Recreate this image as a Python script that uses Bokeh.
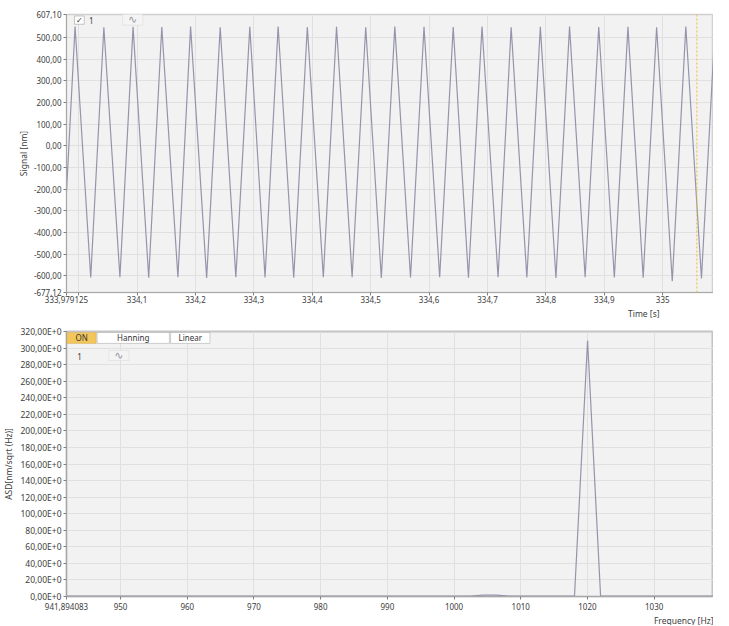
from bokeh.plotting import figure
from bokeh.layouts import column
from bokeh.models import (Range1d, FixedTicker, CustomJSTickFormatter, Span,
                          Label, BoxAnnotation, Title)
from bokeh.embed import file_html
from bokeh.resources import INLINE

FONT = "Noto Sans"
TXT = "#404040"

# ---------------- top panel data (time signal) ----------------
time_start = 333.979125
time_view_end = 335.087
signal_min = -677.12
signal_max = 607.10
signal_first_t = 333.979125
signal_first_v = -213.0
signal_last_t = 335.1003
signal_last_v = 60.0
peak_times = [333.9938, 334.0431, 334.0931, 334.1423, 334.1916, 334.2423, 334.2930,
              334.3415, 334.3915, 334.4415, 334.4915, 334.5413, 334.5913, 334.6413,
              334.6906, 334.7405, 334.7905, 334.8405, 334.8905, 334.9405, 334.9896,
              335.0396, 335.0896]
peak_values = [552, 548, 550, 549, 551, 548, 550, 552, 549, 550, 548, 551,
               550, 549, 552, 548, 550, 551, 549, 550, 548, 552, 550]
trough_times = [334.0206, 334.0706, 334.1199, 334.1699, 334.2191, 334.2691, 334.3191,
                334.3682, 334.4189, 334.4682, 334.5182, 334.5682, 334.6181, 334.6674,
                334.7181, 334.7674, 334.8172, 334.8672, 334.9172, 334.9666, 335.0164,
                335.0664]
trough_values = [-608, -606, -609, -607, -610, -606, -608, -609, -607, -606, -610,
                 -608, -607, -609, -606, -608, -610, -607, -608, -609, -625, -612]
cursor_time = 335.0585
time_ticks = [333.979125, 334.0, 334.1, 334.2, 334.3, 334.4, 334.5, 334.6,
              334.7, 334.8, 334.9, 335.0]
signal_ticks = [-677.12, -600, -500, -400, -300, -200, -100, 0, 100, 200, 300,
                400, 500, 607.10]

# ---------------- bottom panel data (spectrum) ----------------
freq_start = 941.894083
freq_view_end = 1038.9
freq_hz = [941.894083, 1000.48, 1002.43, 1004.39, 1006.34, 1008.29, 1016.11,
           1018.06, 1020.02, 1021.97, 1023.92, 1039.55]
asd_values = [0.4, 0.4, 0.5, 1.6, 1.6, 0.5, 0.4, 0.6, 309.0, 0.6, 0.4, 0.4]
freq_ticks = [941.894083, 950, 960, 970, 980, 990, 1000, 1010, 1020, 1030, 1040]
asd_ticks = [0, 20, 40, 60, 80, 100, 120, 140, 160, 180, 200, 220, 240, 260,
             280, 300, 320]

# build the signal polyline from the read extrema
sig_t = [signal_first_t]
sig_v = [signal_first_v]
for i in range(len(peak_times)):
    sig_t.append(peak_times[i]); sig_v.append(peak_values[i])
    if i < len(trough_times):
        sig_t.append(trough_times[i]); sig_v.append(trough_values[i])
sig_t.append(signal_last_t); sig_v.append(signal_last_v)


def style(p, label_size="8px"):
    for ax in (p.xaxis[0], p.yaxis[0]):
        ax.major_label_text_font = FONT
        ax.major_label_text_font_size = label_size
        ax.major_label_text_color = TXT
        ax.axis_line_color = "#a8a8a8"
        ax.major_tick_line_color = "#808080"
        ax.major_tick_out = 3
        ax.major_tick_in = 0
        ax.minor_tick_line_color = None
        ax.major_label_standoff = 2
        ax.axis_label_text_font = FONT
        ax.axis_label_text_font_size = "8.5px"
        ax.axis_label_text_font_style = "normal"
        ax.axis_label_text_color = TXT
    p.grid.grid_line_color = "#e0e0e0"
    p.grid.grid_line_width = 1


def below_title(text, offset):
    return Title(text=text, align="right", offset=offset, standoff=0,
                 text_font=FONT, text_font_size="8.5px",
                 text_font_style="normal", text_color=TXT)


# ================= top figure =================
p1 = figure(width=713, height=318,
            x_range=Range1d(time_start, time_view_end),
            y_range=Range1d(signal_min, signal_max),
            output_backend="svg", toolbar_location=None,
            min_border_left=50, min_border_right=0,
            min_border_top=14, min_border_bottom=10,
            background_fill_color="#f2f2f2", border_fill_color="white",
            outline_line_color="#d0d0d0", outline_line_width=1.5)
p1.line(sig_t, sig_v, line_color="#9494ac", line_width=1.2)
p1.add_layout(Span(location=cursor_time, dimension="height",
                   line_color="#f2b92e", line_dash="2 2", line_width=1))
p1.xaxis.ticker = FixedTicker(ticks=time_ticks)
p1.yaxis.ticker = FixedTicker(ticks=signal_ticks)
p1.xaxis.formatter = CustomJSTickFormatter(args=dict(first=time_start), code="""
    if (Math.abs(tick - first) < 1e-7) return "333,979125";
    if (Math.abs(tick - 334) < 1e-7) return "";
    if (Math.abs(tick - Math.round(tick)) < 1e-7) return tick.toFixed(0);
    return tick.toFixed(1).replace(".", ",");
""")
p1.yaxis.formatter = CustomJSTickFormatter(code="""
    return tick.toFixed(2).replace(".", ",");
""")
p1.yaxis.axis_label = "Signal [nm]"
style(p1)
p1.yaxis.axis_label_standoff = 2
p1.xaxis.major_label_standoff = 0
p1.add_layout(below_title("Time [s]", 54), "below")

# legend-like decorations (top)
p1.add_layout(BoxAnnotation(left=333.9928, right=334.0095, top=600, bottom=562,
                            fill_color="white", fill_alpha=1,
                            line_color="#555555", line_width=1))
p1.add_layout(Label(x=334.00115, y=581, text="✓", text_font="DejaVu Sans",
                    text_font_size="8px", text_color="#333333",
                    text_align="center", text_baseline="middle"))
p1.add_layout(Label(x=334.0175, y=581, text="1", text_font=FONT,
                    text_font_size="8px", text_color=TXT,
                    text_align="left", text_baseline="middle"))
p1.add_layout(BoxAnnotation(left=334.0752, right=334.1098, top=611, bottom=558,
                            fill_color="#f4f4f4", fill_alpha=1,
                            line_color="#c8c8c8", line_width=1))
p1.add_layout(Label(x=334.0925, y=583, text="∿", text_font="DejaVu Sans",
                    text_font_size="11px", text_color="#9a9aa8",
                    text_align="center", text_baseline="middle"))

# ================= bottom figure =================
p2 = figure(width=713, height=307,
            x_range=Range1d(freq_start, freq_view_end),
            y_range=Range1d(0, 320),
            output_backend="svg", toolbar_location=None,
            min_border_left=59, min_border_right=0,
            min_border_top=13, min_border_bottom=10,
            background_fill_color="#f2f2f2", border_fill_color="white",
            outline_line_color="#c4c4c4", outline_line_width=2)
p2.line(freq_hz, asd_values, line_color="#9494ac", line_width=1.2)
p2.xaxis.ticker = FixedTicker(ticks=freq_ticks)
p2.yaxis.ticker = FixedTicker(ticks=asd_ticks)
p2.xaxis.formatter = CustomJSTickFormatter(args=dict(first=freq_start), code="""
    if (Math.abs(tick - first) < 1e-7) return "941,894083";
    return tick.toFixed(0);
""")
p2.yaxis.formatter = CustomJSTickFormatter(code="""
    return tick.toFixed(2).replace(".", ",") + "E+0";
""")
p2.yaxis.axis_label = "ASD[nm/sqrt (Hz)]"
style(p2)
p2.yaxis.major_label_text_font_size = "8.5px"
p2.yaxis.axis_label_standoff = 3
p2.xaxis.major_label_standoff = 3
p2.add_layout(below_title("Frequency [Hz]", 0), "below")

# buttons and legend (bottom)
btn_top, btn_bottom = 318.8, 305.6
p2.add_layout(BoxAnnotation(left=941.95, right=946.34, top=btn_top, bottom=btn_bottom,
                            fill_color="#f3c65c", fill_alpha=1,
                            line_color="#c0923a", line_width=1))
p2.add_layout(Label(x=944.15, y=312.2, text="ON", text_font=FONT,
                    text_font_size="8px", text_color="#333333",
                    text_align="center", text_baseline="middle"))
p2.add_layout(BoxAnnotation(left=946.49, right=957.32, top=btn_top, bottom=btn_bottom,
                            fill_color="white", fill_alpha=1,
                            line_color="#6a6a6a", line_width=1))
p2.add_layout(Label(x=951.9, y=312.2, text="Hanning", text_font=FONT,
                    text_font_size="8px", text_color="#333333",
                    text_align="center", text_baseline="middle"))
p2.add_layout(BoxAnnotation(left=957.5, right=963.4, top=btn_top, bottom=btn_bottom,
                            fill_color="white", fill_alpha=1,
                            line_color="#6a6a6a", line_width=1))
p2.add_layout(Label(x=960.45, y=312.2, text="Linear", text_font=FONT,
                    text_font_size="8px", text_color="#333333",
                    text_align="center", text_baseline="middle"))
p2.add_layout(Label(x=943.5, y=290, text="1", text_font=FONT,
                    text_font_size="8px", text_color=TXT,
                    text_align="left", text_baseline="middle"))
p2.add_layout(BoxAnnotation(left=948.27, right=951.24, top=297, bottom=285,
                            fill_color="#f4f4f4", fill_alpha=1,
                            line_color="#c8c8c8", line_width=1))
p2.add_layout(Label(x=949.75, y=291, text="∿", text_font="DejaVu Sans",
                    text_font_size="11px", text_color="#9a9aa8",
                    text_align="center", text_baseline="middle"))

layout = column(p1, p2, spacing=0)
open("out.html", "w").write(file_html(layout, INLINE))
